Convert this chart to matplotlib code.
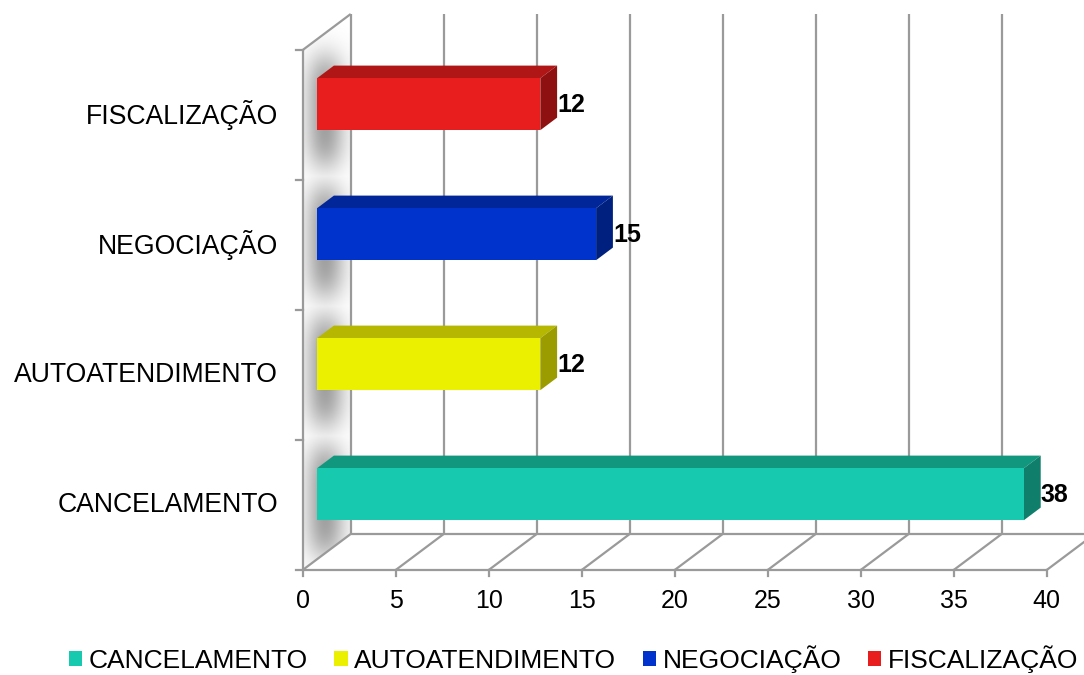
import numpy as np
import matplotlib
matplotlib.use("Agg")
import matplotlib.pyplot as plt
from matplotlib.patches import Polygon, Patch
from math import erf

# ---- data ----
categories = ["CANCELAMENTO", "AUTOATENDIMENTO", "NEGOCIAÇÃO", "FISCALIZAÇÃO"]
values = [38, 12, 15, 12]
front_colors = ["#17C9AE", "#EAF000", "#0033CC", "#E81E1E"]
top_colors = ["#12977F", "#B5B700", "#002699", "#B01616"]
side_colors = ["#0F7E6A", "#9A9C00", "#00207F", "#8F1010"]
xticks = [0, 5, 10, 15, 20, 25, 30, 35, 40]

plt.rcParams['font.family'] = ['Liberation Sans', 'DejaVu Sans']

W, H = 1084, 675
fig = plt.figure(figsize=(W / 100, H / 100), dpi=100)
ax = fig.add_axes([0, 0, 1, 1])
# pixel mapping: value v -> 302.7 + 18.6 v ; band u -> 570 - 130 (u + 0.5)
px_per_v = 18.6
x0 = 302.7
ax.set_xlim(-x0 / px_per_v, (W - x0) / px_per_v)
ax.set_ylim((570 - H) / 130 - 0.5, 570 / 130 - 0.5)
ax.axis('off')

DX = 48 / px_per_v   # depth offset in value units
DY = 36 / 130        # depth offset in band units
n = len(categories)
ymin, ymax = -0.5, n - 0.5
GRAY = "#9a9a9a"
LW = 1.6


def P(v, u, f):
    return (v + f * DX, u + f * DY)


def line(a, b, **kw):
    ax.plot([a[0], b[0]], [a[1], b[1]], color=GRAY, lw=LW,
            solid_capstyle='butt', zorder=kw.pop('zorder', 1), **kw)


# ---- wall shadow ----
xs = np.linspace(-0.1, DX, 200)
ys = np.linspace(ymin, ymax + DY, 800)
XX, YY = np.meshgrid(xs, ys)
verf = np.vectorize(erf)
xc, sx = 1.2, 0.75
alpha = np.zeros_like(XX)
for i in range(n):
    yc = i + 0.03
    hh = 0.40
    sy = 0.12
    prof = 0.5 * (verf((YY - (yc - hh)) / (sy * np.sqrt(2))) -
                  verf((YY - (yc + hh)) / (sy * np.sqrt(2))))
    alpha = np.maximum(alpha, prof)
alpha *= np.exp(-0.5 * ((XX - xc) / sx) ** 2) * 0.75
img = np.zeros(XX.shape + (4,))
img[..., :3] = 0.5
img[..., 3] = alpha
im = ax.imshow(img, extent=[xs[0], xs[-1], ys[0], ys[-1]], origin='lower',
               aspect='auto', zorder=0, interpolation='bilinear')
wall = Polygon([P(0, ymin, 0), P(0, ymin, 1), P(0, ymax, 1), P(0, ymax, 0)],
               closed=True, facecolor='none', edgecolor='none')
ax.add_patch(wall)
im.set_clip_path(wall)

# ---- grid / frame ----
for t in xticks:
    line(P(t, ymin, 0), P(t, ymin, 1))
    line(P(t, ymin, 1), P(t, ymax, 1))
    ax.plot([t, t], [ymin, ymin - 6 / 130], color=GRAY, lw=LW, zorder=1)
    ax.text(t, ymin - 31 / 130, str(t), ha='center', va='center',
            fontsize=18, color='black')
line(P(0, ymin, 0), P(xticks[-1], ymin, 0))
line(P(0, ymin, 1), P(xticks[-1], ymin, 1))
line(P(0, ymin, 0), P(0, ymax, 0))
line(P(0, ymax, 0), P(0, ymax, 1))
for k in range(n + 1):
    u = ymin + k
    ax.plot([0, -7 / px_per_v], [u, u], color=GRAY, lw=LW, zorder=1)

# ---- bars ----
f1, f2 = 0.30, 0.65
hb = 0.2
for i, (cat, v) in enumerate(zip(categories, values)):
    front = [P(0, i - hb, f1), P(v, i - hb, f1), P(v, i + hb, f1), P(0, i + hb, f1)]
    top = [P(0, i + hb, f1), P(v, i + hb, f1), P(v, i + hb, f2), P(0, i + hb, f2)]
    side = [P(v, i - hb, f1), P(v, i - hb, f2), P(v, i + hb, f2), P(v, i + hb, f1)]
    ax.add_patch(Polygon(top, closed=True, facecolor=top_colors[i],
                         edgecolor='none', zorder=3))
    ax.add_patch(Polygon(side, closed=True, facecolor=side_colors[i],
                         edgecolor='none', zorder=3))
    ax.add_patch(Polygon(front, closed=True, facecolor=front_colors[i],
                         edgecolor='none', zorder=4))
    lx, ly = P(v, i, f2)
    ax.text(lx, i + f1 * DY - 0.005, str(v), ha='left', va='center',
            fontsize=18, fontweight='bold', color='black', zorder=5)
    ax.text(-1.33, i, cat, ha='right', va='center', fontsize=19.2,
            color='black')

# ---- legend ----
handles = [Patch(facecolor=c, edgecolor='none') for c in front_colors]
fig.legend(handles, categories, loc='center', ncol=n,
           bbox_to_anchor=(573.5 / W, 1 - 659 / H), frameon=False,
           fontsize=19, handlelength=0.5, handleheight=0.5,
           handletextpad=0.25, columnspacing=1.0, borderpad=0,
           borderaxespad=0)

fig.savefig("out.png", dpi=100)
